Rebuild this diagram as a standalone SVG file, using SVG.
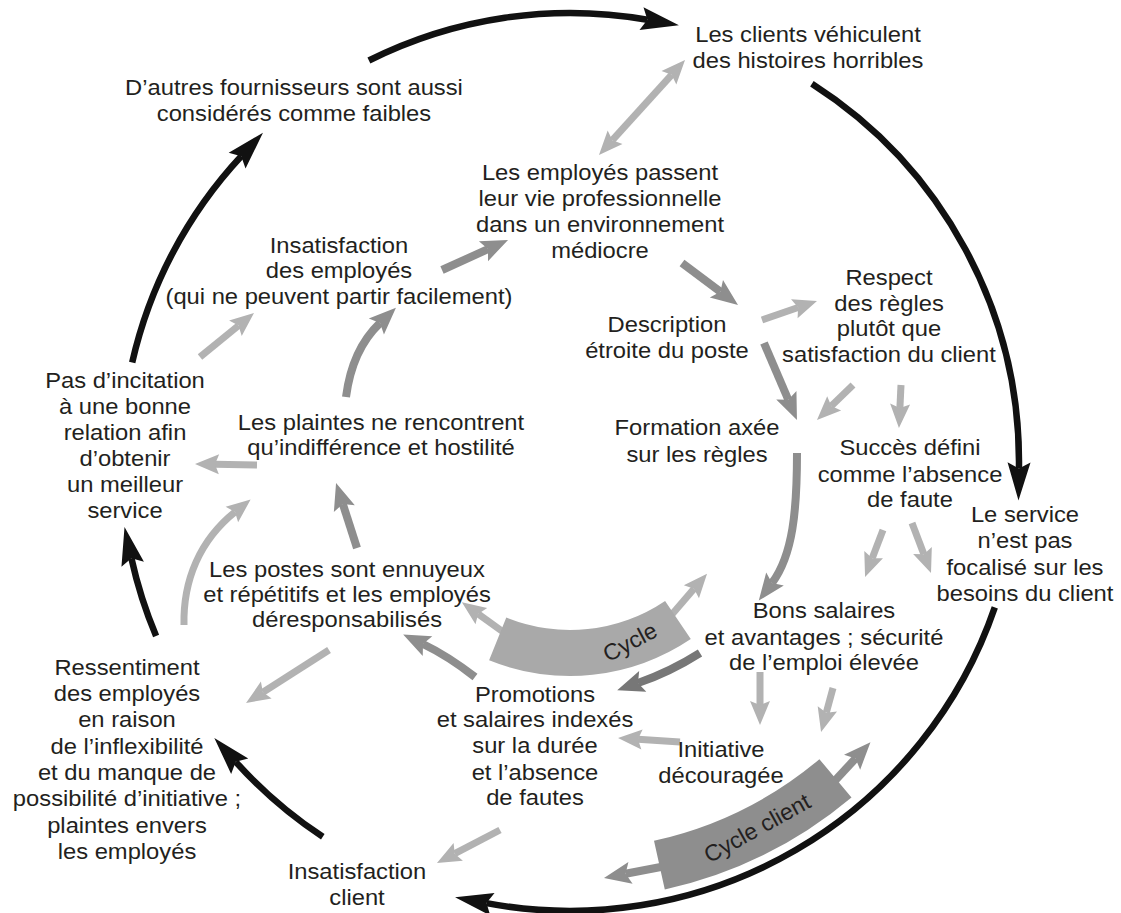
<svg xmlns="http://www.w3.org/2000/svg" width="1121" height="913" viewBox="0 0 1121 913">
<style>
.t{font-family:"Liberation Sans",Arial,Helvetica,sans-serif;font-size:22px;fill:#231f20;text-anchor:middle}
.bt{font-family:"Liberation Sans",Arial,Helvetica,sans-serif;font-size:23px;fill:#231f20;text-anchor:middle}
.blk{fill:none;stroke:#111;stroke-width:6.5;marker-end:url(#mB)}
.lt{fill:none;stroke:#b2b2b2;stroke-width:7;marker-end:url(#mL)}
.md{fill:none;stroke:#8e8e8e;stroke-width:8;marker-end:url(#mM)}
.dk{fill:none;stroke:#777;stroke-width:8;marker-end:url(#mD)}
.band1{fill:#a9a9a9}
.band2{fill:#8e8e8e}
</style>
<defs>
<marker id="mB" markerUnits="userSpaceOnUse" orient="auto" refX="6" refY="0" markerWidth="44" markerHeight="30" overflow="visible"><path d="M0,-11.5 L38,0 L0,11.5 L6,0 Z" fill="#111"/></marker>
<marker id="mL" markerUnits="userSpaceOnUse" orient="auto-start-reverse" refX="4" refY="0" markerWidth="30" markerHeight="24" overflow="visible"><path d="M0,-10 L24,0 L0,10 L4,0 Z" fill="#b2b2b2"/></marker>
<marker id="mM" markerUnits="userSpaceOnUse" orient="auto" refX="5" refY="0" markerWidth="30" markerHeight="24" overflow="visible"><path d="M0,-11 L27,0 L0,11 L5,0 Z" fill="#8e8e8e"/></marker>
<marker id="mD" markerUnits="userSpaceOnUse" orient="auto" refX="5" refY="0" markerWidth="30" markerHeight="24" overflow="visible"><path d="M0,-11 L27,0 L0,11 L5,0 Z" fill="#777"/></marker>
</defs>
<rect width="1121" height="913" fill="#fff"/>
<g id="connectors">
<path class="blk" d="M368.9,60.5 A449,449 0 0 1 647.4,19.7"/>
<path class="blk" d="M811.9,83.7 A449,449 0 0 1 1018.95,468.4"/>
<path class="blk" d="M994.8,607.4 A449,449 0 0 1 486.5,903.1"/>
<path class="blk" d="M322.8,836.8 A449,449 0 0 1 235.7,761.8"/>
<path class="blk" d="M156.1,636 A449,449 0 0 1 131.4,558.3"/>
<path class="blk" d="M132.2,362.5 A449,449 0 0 1 241.2,156.2"/>
<path class="lt" style="marker-start:url(#mL)" d="M612.4,140.2 L671.6,74.8"/>
<path class="md" d="M682,263 L720.4,291.8"/>
<path class="md" d="M442,270 L488,249.1"/>
<path class="lt" d="M762,320 L798.1,307.5"/>
<path class="md" d="M764,343 L788.3,399.8"/>
<path class="lt" d="M853,385 L831.3,406.1"/>
<path class="lt" d="M901,385 L899.9,408"/>
<path class="md" d="M797,453 C797,510 793,555 772,583"/>
<path class="lt" d="M883,530 L872.2,558.3"/>
<path class="lt" d="M912,523 L923.9,554.3"/>
<path class="lt" d="M760,672 L760,705"/>
<path class="lt" d="M833,688 L826.3,712.7"/>
<path class="lt" d="M680,742 L638,739.3"/>
<path class="dk" d="M700,653 Q670,672 638,683"/>
<path class="md" d="M475,677 Q448,656 423,644"/>
<path class="lt" d="M506,634 L478.1,613.9"/>
<path class="lt" d="M668,619 L694,588.8"/>
<path class="md" d="M666,866 L625.6,873.8"/>
<path class="md" d="M830,786 L855.5,758.5"/>
<path class="lt" d="M500,830 L454.7,853.7"/>
<path class="lt" d="M329,650 L262.9,692.2"/>
<path class="lt" d="M184,625 C183,580 200,540 235,512"/>
<path class="md" d="M357,548 L342.8,503.9"/>
<path class="md" d="M346,397 C350,366 360,342 380,323"/>
<path class="lt" d="M257,465 L215,464.3"/>
<path class="lt" d="M200,357 L238.5,325.6"/>
</g>
<g id="cycle">
<path class="band1" d="M665.1,600.9 A170,170 0 0 1 506.3,617.6 L489.1,660.3 A216,216 0 0 0 690.8,639.1 Z"/>
<text class="bt" x="630" y="650" transform="rotate(-28 630 642)">Cycle</text>
</g>
<g id="cycle-client">
<path class="band2" d="M819.4,759.2 A388,388 0 0 1 654,840.8 L664.8,889.6 A438,438 0 0 0 851.5,797.5 Z"/>
<text class="bt" x="757" y="836" transform="rotate(-29 757 828)">Cycle client</text>
</g>
<g id="n-clients" transform="matrix(1.08 0 0 1 -64.64 0)"><text class="t"><tspan x="808" y="42">Les clients véhiculent</tspan><tspan x="808" y="68">des histoires horribles</tspan></text></g>
<g id="n-fournisseurs" transform="matrix(1.08 0 0 1 -23.52 0)"><text class="t"><tspan x="294" y="95">D’autres fournisseurs sont aussi</tspan><tspan x="294" y="121">considérés comme faibles</tspan></text></g>
<g id="n-employes-env" transform="matrix(1.08 0 0 1 -48 0)"><text class="t"><tspan x="600" y="180">Les employés passent</tspan><tspan x="600" y="206">leur vie professionnelle</tspan><tspan x="600" y="232">dans un environnement</tspan><tspan x="600" y="258">médiocre</tspan></text></g>
<g id="n-insat-employes" transform="matrix(1.08 0 0 1 -27.12 0)"><text class="t"><tspan x="339" y="253">Insatisfaction</tspan><tspan x="339" y="278.5">des employés</tspan><tspan x="339" y="304">(qui ne peuvent partir facilement)</tspan></text></g>
<g id="n-description" transform="matrix(1.08 0 0 1 -53.36 0)"><text class="t"><tspan x="667" y="332">Description</tspan><tspan x="667" y="358">étroite du poste</tspan></text></g>
<g id="n-respect" transform="matrix(1.08 0 0 1 -71.12 0)"><text class="t"><tspan x="889" y="285">Respect</tspan><tspan x="889" y="311">des règles</tspan><tspan x="889" y="336">plutôt que</tspan><tspan x="889" y="362">satisfaction du client</tspan></text></g>
<g id="n-formation" transform="matrix(1.08 0 0 1 -55.76 0)"><text class="t"><tspan x="697" y="435">Formation axée</tspan><tspan x="697" y="462">sur les règles</tspan></text></g>
<g id="n-succes" transform="matrix(1.08 0 0 1 -72.8 0)"><text class="t"><tspan x="910" y="455">Succès défini</tspan><tspan x="910" y="482">comme l’absence</tspan><tspan x="910" y="507">de faute</tspan></text></g>
<g id="n-service" transform="matrix(1.08 0 0 1 -82 0)"><text class="t"><tspan x="1025" y="522">Le service</tspan><tspan x="1025" y="548">n’est pas</tspan><tspan x="1025" y="575">focalisé sur les</tspan><tspan x="1025" y="601">besoins du client</tspan></text></g>
<g id="n-incitation" transform="matrix(1.08 0 0 1 -10 0)"><text class="t"><tspan x="125" y="388">Pas d’incitation</tspan><tspan x="125" y="414">à une bonne</tspan><tspan x="125" y="440">relation afin</tspan><tspan x="125" y="466">d’obtenir</tspan><tspan x="125" y="492">un meilleur</tspan><tspan x="125" y="518">service</tspan></text></g>
<g id="n-plaintes" transform="matrix(1.08 0 0 1 -30.48 0)"><text class="t"><tspan x="381" y="430">Les plaintes ne rencontrent</tspan><tspan x="381" y="455">qu’indifférence et hostilité</tspan></text></g>
<g id="n-postes" transform="matrix(1.08 0 0 1 -27.76 0)"><text class="t"><tspan x="347" y="577">Les postes sont ennuyeux</tspan><tspan x="347" y="602">et répétitifs et les employés</tspan><tspan x="347" y="627">déresponsabilisés</tspan></text></g>
<g id="n-ressentiment" transform="matrix(1.08 0 0 1 -10.16 0)"><text class="t"><tspan x="127" y="675">Ressentiment</tspan><tspan x="127" y="701">des employés</tspan><tspan x="127" y="727">en raison</tspan><tspan x="127" y="754">de l’inflexibilité</tspan><tspan x="127" y="780">et du manque de</tspan><tspan x="127" y="806">possibilité d’initiative ;</tspan><tspan x="127" y="833">plaintes envers</tspan><tspan x="127" y="859">les employés</tspan></text></g>
<g id="n-insat-client" transform="matrix(1.08 0 0 1 -28.56 0)"><text class="t"><tspan x="357" y="879">Insatisfaction</tspan><tspan x="357" y="905">client</tspan></text></g>
<g id="n-promotions" transform="matrix(1.08 0 0 1 -42.8 0)"><text class="t"><tspan x="535" y="702">Promotions</tspan><tspan x="535" y="727">et salaires indexés</tspan><tspan x="535" y="753">sur la durée</tspan><tspan x="535" y="780">et l’absence</tspan><tspan x="535" y="805">de fautes</tspan></text></g>
<g id="n-salaires" transform="matrix(1.08 0 0 1 -65.92 0)"><text class="t"><tspan x="824" y="618">Bons salaires</tspan><tspan x="824" y="645">et avantages ; sécurité</tspan><tspan x="824" y="670">de l’emploi élevée</tspan></text></g>
<g id="n-initiative" transform="matrix(1.08 0 0 1 -57.68 0)"><text class="t"><tspan x="721" y="757">Initiative</tspan><tspan x="721" y="783">découragée</tspan></text></g>
</svg>
